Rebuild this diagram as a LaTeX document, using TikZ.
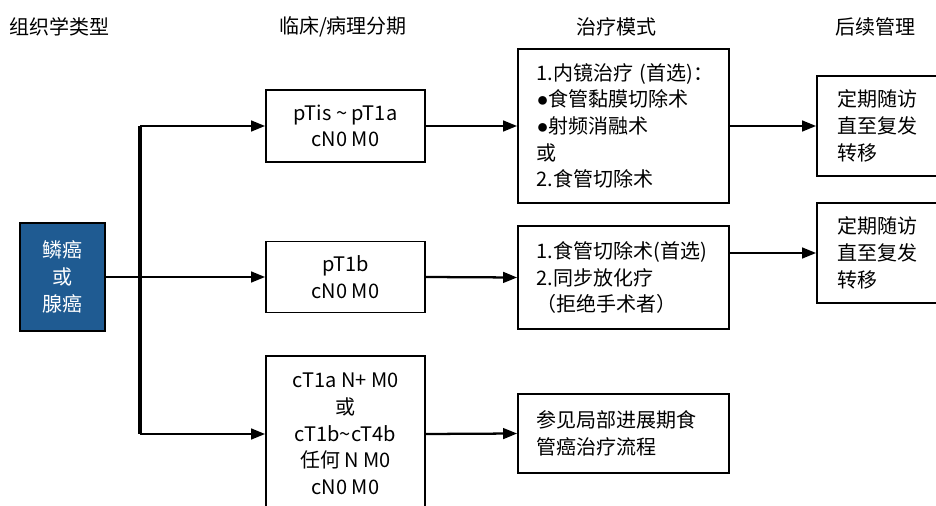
\documentclass[tikz,border=0pt]{standalone}
\usepackage{fontspec}
\setmainfont{Noto Sans CJK SC}
\newfontfamily\dotfont{Liberation Sans}
\usetikzlibrary{arrows.meta}

\definecolor{typeblue}{RGB}{31,91,146}

\newcommand{\bul}{{\dotfont ●}}

\tikzset{
  txt/.style={font=\fontsize{15}{20}\selectfont},
  box/.style={txt, draw, line width=1.3pt, inner sep=0pt},
  cbox/.style={box, align=center, minimum width=119.25pt},
  lbox/.style={box, align=left, inner xsep=14pt, text width=130.25pt},
  fbox/.style={box, align=left, inner xsep=15pt, text width=69.75pt, minimum height=75pt},
  arrow/.style={line width=1.7pt, -{Triangle[length=10.5pt,width=8pt]}},
  trunk/.style={line width=2.3pt}
}

\begin{document}
\begin{tikzpicture}[x=0.75pt, y=-0.75pt]

\useasboundingbox (0,0) rectangle (936,506) ;

\node [txt] (h1) at (60,27) {组织学类型} ;
\node [txt] (h2) at (343,27) {临床/病理分期} ;
\node [txt] (h3) at (616,27) {治疗模式} ;
\node [txt] (h4) at (875,27) {后续管理} ;

\node [box, fill=typeblue, text=white, align=center, minimum width=63.75pt, minimum height=81pt] (type) at (62.5,277) {鳞癌\\或\\腺癌} ;

\node [cbox, minimum height=54pt] (stA) at (345.5,126) {pTis \textasciitilde{} pT1a\\cN0 M0} ;
\node [cbox, minimum height=53.25pt] (stB) at (345.5,277) {pT1b\\cN0 M0} ;
\node [cbox, minimum height=117pt] (stC) at (345.5,434) {cT1a N+ M0\\或\\cT1b\textasciitilde{}cT4b\\任何 N M0\\cN0 M0} ;

\node [lbox, minimum height=115.5pt] (trA) at (623.5,126) {1.内镜治疗~(首选)：\\\bul 食管黏膜切除术\\\bul 射频消融术\\或\\2.食管切除术} ;
\node [lbox, minimum height=77.25pt] (trB) at (623.5,277.5) {1.食管切除术(首选)\\2.同步放化疗\\（拒绝手术者）} ;
\node [lbox, minimum height=59.25pt] (trC) at (623.5,433.5) {参见局部进展期食\\管癌治疗流程} ;

\node [fbox] (fuA) at (883.5,126) {定期随访\\直至复发\\转移} ;
\node [fbox] (fuB) at (883.5,253) {定期随访\\直至复发\\转移} ;

\coordinate (top) at (140,126) ;
\coordinate (bot) at (140,434) ;

\draw [trunk] (top) to (bot) ;
\draw [arrow] (top) to (stA.west) ;
\draw [arrow] (type.east) to (stB.west) ;
\draw [arrow] (bot) to (stC.west) ;

\draw [arrow] (stA.east) to (trA.west) ;
\draw [arrow] (stB.east) to (trB.west) ;
\draw [arrow] (stC.east) to (trC.west) ;

\draw [arrow] (trA.east) to (fuA.west) ;
\draw [arrow] (trB.east |- fuB.west) to (fuB.west) ;

\end{tikzpicture}
\end{document}
